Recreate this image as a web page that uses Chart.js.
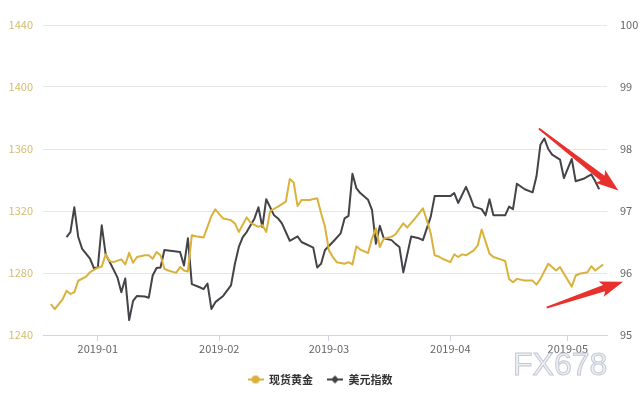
<!DOCTYPE html>
<html>
<head>
<meta charset="utf-8">
<script src="https://cdn.jsdelivr.net/npm/chart.js@4.4.1/dist/chart.umd.min.js"></script>
<style>
  html, body { margin: 0; padding: 0; background: #fff; }
  #wrap { width: 640px; height: 400px; }
</style>
</head>
<body>
<div id="wrap"><canvas id="c"></canvas></div>
<script>
// x values are days counted from 2019-01-01
const monthDays = [0, 31, 59, 90, 120];
const monthLabels = ['2019-01', '2019-02', '2019-03', '2019-04', '2019-05'];

const goldDays = [-12, -11, -9, -8, -7, -6, -5, -3, -2, 0, 1, 2, 3, 4, 6, 7, 8, 9, 10, 12,
  13, 14, 15, 16, 17, 18, 20, 21, 22, 23, 24, 25, 27, 29, 30, 31, 32, 34, 35, 36,
  38, 39, 41, 42, 43, 44, 46, 48, 49, 50, 51, 52, 54, 56, 57, 58, 59, 60, 61, 63,
  64, 65, 66, 67, 69, 70, 71, 72, 73, 75, 76, 78, 79, 81, 83, 84, 85, 86, 87, 88,
  90, 91, 92, 93, 94, 96, 97, 98, 100, 101, 103, 104, 105, 106, 107, 109, 111, 112, 113, 115,
  116, 117, 118, 119, 121, 122, 123, 125, 126, 127, 129];
const goldVals = [1260, 1256.7, 1263, 1268.5, 1266.5, 1267.5, 1275, 1277.7, 1280.5, 1283.4,
  1284.2, 1292, 1287.7, 1287, 1288.8, 1285.5, 1293, 1286.6, 1290.3, 1291.4,
  1291.4, 1289.2, 1293.5, 1291.4, 1282.7, 1281.6, 1280.1, 1283.8, 1281.6, 1281,
  1304.4, 1303.7, 1302.9, 1316.7, 1321.1, 1318, 1315.2, 1314.1, 1312, 1306.5,
  1315.9, 1312.4, 1309.8, 1310.9, 1306.5, 1320, 1322.8, 1326, 1340.6, 1338.4,
  1323.2, 1327.1, 1327.1, 1328.2, 1318.5, 1309.8, 1294.6, 1290.3, 1287, 1286,
  1287, 1285.5, 1297.2, 1295.1, 1292.9, 1302.2, 1308.7, 1296.8, 1302.2, 1303.3,
  1305, 1312, 1309.4, 1315.2, 1321.7, 1314.1, 1305.5, 1291.4, 1290.7, 1289.2,
  1287, 1292, 1290.3, 1292, 1291.4, 1294.6, 1297.9, 1308.1, 1292.5, 1290.3,
  1288.6, 1287.7, 1276.2, 1274, 1276.2, 1275.1, 1275.1, 1272.5, 1276.2, 1286,
  1283.8, 1281.6, 1283.8, 1279.5, 1271.2, 1278.4, 1279.5, 1280.5, 1284.4, 1281.6,
  1285.5];

const usdDays = [-8, -7, -6, -5, -4, -2, -1, 0, 1, 2, 3, 5, 6, 7, 8, 9, 10, 12, 13, 14,
  15, 16, 17, 21, 22, 23, 24, 26, 27, 28, 29, 30, 32, 34, 35, 36, 37, 38, 40, 41,
  42, 43, 45, 46, 47, 49, 51, 52, 55, 56, 57, 58, 60, 62, 63, 64, 65, 66, 67, 69,
  70, 71, 72, 73, 75, 76, 77, 78, 80, 82, 83, 85, 86, 88, 90, 91, 92, 94, 95, 96,
  98, 99, 100, 101, 104, 105, 106, 107, 109, 111, 112, 113, 114, 115, 116, 118, 119, 121, 122, 124,
  126, 127, 128];
const usdVals = [96.58, 96.66, 97.06, 96.58, 96.39, 96.23, 96.08, 96.09, 96.77, 96.30,
  96.18, 95.93, 95.69, 95.91, 95.24, 95.55, 95.63, 95.62, 95.60, 95.96,
  96.08, 96.09, 96.37, 96.34, 96.12, 96.56, 95.82, 95.77, 95.74, 95.83,
  95.42, 95.53, 95.63, 95.80, 96.15, 96.42, 96.58, 96.66, 96.88, 97.06,
  96.74, 97.19, 96.93, 96.88, 96.80, 96.52, 96.59, 96.50, 96.41, 96.09,
  96.15, 96.37, 96.50, 96.64, 96.88, 96.92, 97.60, 97.37, 97.29, 97.18,
  97.02, 96.47, 96.76, 96.56, 96.53, 96.47, 96.42, 96.01, 96.59, 96.56,
  96.53, 96.91, 97.24, 97.24, 97.24, 97.29, 97.13, 97.39, 97.24, 97.07,
  97.03, 96.93, 97.19, 96.93, 96.93, 97.07, 97.03, 97.44, 97.35, 97.30,
  97.56, 98.07, 98.17, 98.00, 97.91, 97.83, 97.53, 97.84, 97.48, 97.52,
  97.59, 97.48, 97.35];

// red annotation arrows, [day, dollar index]
const arrowFrom = [[112.6, 98.33], [114.6, 95.44]];
const arrowTo = [[132.9, 97.33], [134.1, 95.86]];

const GOLD = '#d9b13b';
const DARK = '#434348';
const GRID = '#e6e6e6';
const AXIS = '#ccd6eb';
const FONT = '"Noto Sans CJK SC", "Noto Sans", sans-serif';

Chart.defaults.font.family = FONT;

function legendIcon(color, diamond) {
  const c = document.createElement('canvas');
  c.width = 16; c.height = 10;
  const g = c.getContext('2d');
  g.strokeStyle = color; g.lineWidth = 2;
  g.beginPath(); g.moveTo(0, 5); g.lineTo(16, 5); g.stroke();
  g.fillStyle = color;
  g.beginPath();
  if (diamond) {
    g.moveTo(8, 1); g.lineTo(12, 5); g.lineTo(8, 9); g.lineTo(4, 5); g.closePath();
  } else {
    g.arc(8, 5, 4, 0, Math.PI * 2);
  }
  g.fill();
  return c;
}

const overlay = {
  id: 'overlay',
  afterDraw(chart) {
    const { ctx, scales } = chart;
    ctx.save();
    // arrows
    ctx.fillStyle = '#e8302c';
    arrowFrom.forEach((f, i) => {
      const x1 = scales.x.getPixelForValue(f[0]), y1 = scales.yR.getPixelForValue(f[1]);
      const x2 = scales.x.getPixelForValue(arrowTo[i][0]), y2 = scales.yR.getPixelForValue(arrowTo[i][1]);
      const len = Math.hypot(x2 - x1, y2 - y1);
      const hl = 20;
      ctx.save();
      ctx.translate(x1, y1);
      ctx.rotate(Math.atan2(y2 - y1, x2 - x1));
      ctx.beginPath();
      ctx.moveTo(0, -0.9);
      ctx.lineTo(len - hl, -3.2);
      ctx.lineTo(len - hl - 3, -8);
      ctx.lineTo(len, 0);
      ctx.lineTo(len - hl - 3, 8);
      ctx.lineTo(len - hl, 3.2);
      ctx.lineTo(0, 0.9);
      ctx.closePath();
      ctx.fill();
      ctx.restore();
    });
    // watermark
    ctx.font = '32px "Liberation Sans", sans-serif';
    ctx.textBaseline = 'alphabetic';
    ctx.textAlign = 'left';
    ctx.fillStyle = '#eef0f4';
    ctx.fillText('FX678', 513, 375);
    ctx.strokeStyle = '#c3c9d3';
    ctx.lineWidth = 1;
    ctx.strokeText('FX678', 513, 375);
    ctx.restore();
  }
};

new Chart(document.getElementById('c').getContext('2d'), {
  type: 'line',
  data: {
    datasets: [
      {
        label: '现货黄金',
        data: goldDays.map((d, i) => ({ x: d, y: goldVals[i] })),
        borderColor: GOLD,
        backgroundColor: GOLD,
        borderWidth: 2,
        borderJoinStyle: 'round',
        pointRadius: 0,
        pointHoverRadius: 0,
        pointStyle: legendIcon(GOLD, false),
        tension: 0,
        yAxisID: 'yL',
      },
      {
        label: '美元指数',
        data: usdDays.map((d, i) => ({ x: d, y: usdVals[i] })),
        borderColor: DARK,
        backgroundColor: DARK,
        borderWidth: 2,
        borderJoinStyle: 'round',
        pointRadius: 0,
        pointHoverRadius: 0,
        pointStyle: legendIcon(DARK, true),
        tension: 0,
        yAxisID: 'yR',
      },
    ],
  },
  options: {
    responsive: true,
    maintainAspectRatio: false,
    animation: false,
    layout: { padding: { top: 25, bottom: 5, left: 0, right: 0 } },
    plugins: {
      tooltip: { enabled: false },
      legend: {
        position: 'bottom',
        labels: {
          usePointStyle: true,
          pointStyleWidth: 16,
          color: '#333333',
          font: { size: 11, weight: 'bold' },
          padding: 14,
        },
      },
    },
    scales: {
      x: {
        type: 'linear',
        min: -14,
        max: 130,
        afterBuildTicks: s => { s.ticks = monthDays.map(v => ({ value: v })); },
        afterFit: s => { s.height = 25; },
        ticks: {
          autoSkip: false,
          maxRotation: 0,
          color: '#666666',
          font: { size: 11 },
          padding: 1,
          callback: v => {
            const i = monthDays.indexOf(v);
            return i >= 0 ? monthLabels[i] : '';
          },
        },
        grid: { drawOnChartArea: false, drawTicks: true, tickLength: 6, color: AXIS },
        border: { color: AXIS, width: 1 },
      },
      yL: {
        position: 'left',
        min: 1240,
        max: 1440,
        afterFit: s => { s.width = 43; },
        ticks: { stepSize: 40, color: '#d4bc6e', font: { size: 11 }, padding: 10, callback: v => String(v) },
        grid: { color: c => (c.tick && c.tick.value === 1240 ? 'rgba(0,0,0,0)' : GRID), drawTicks: false },
        border: { display: false },
      },
      yR: {
        position: 'right',
        min: 95,
        max: 100,
        afterFit: s => { s.width = 33; },
        ticks: { stepSize: 1, color: '#666666', font: { size: 11 }, padding: 13, callback: v => String(v) },
        grid: { drawOnChartArea: false, drawTicks: false },
        border: { display: false },
      },
    },
  },
  plugins: [overlay],
});
</script>
</body>
</html>
